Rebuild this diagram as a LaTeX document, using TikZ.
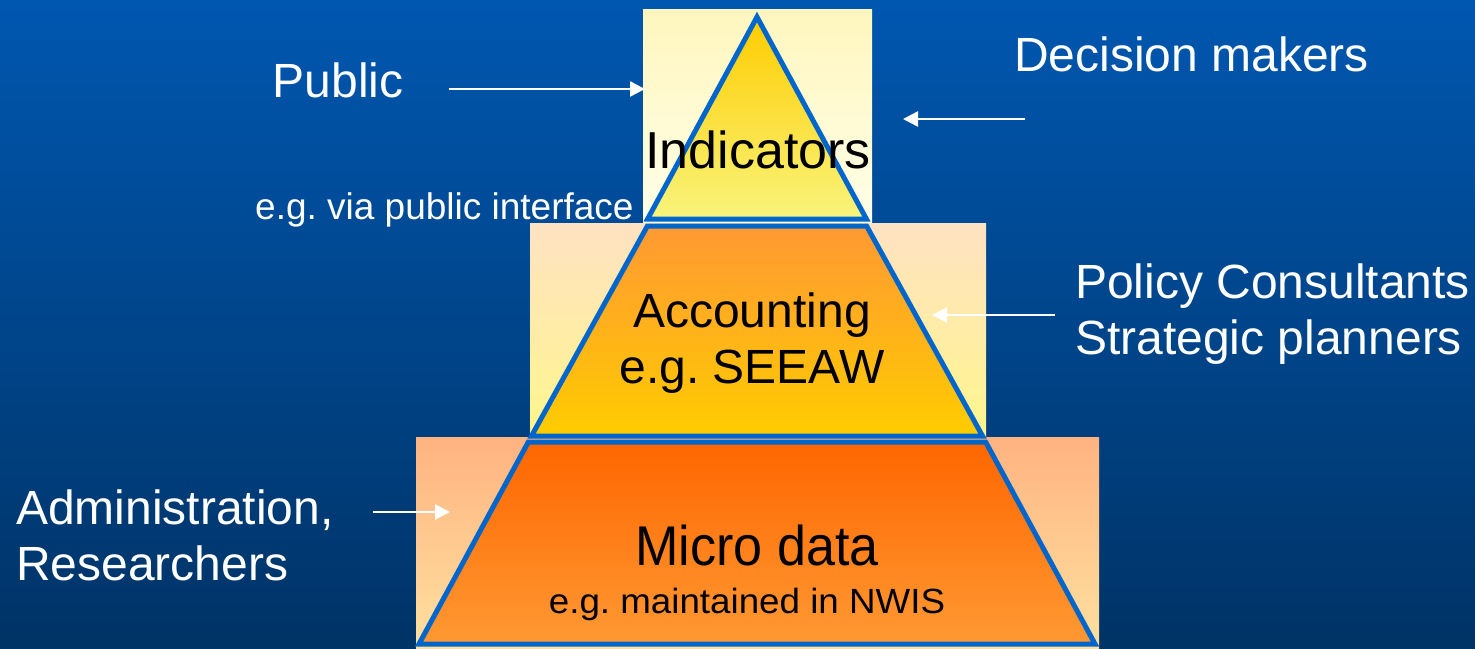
\documentclass[tikz,border=0pt]{standalone}
\usepackage{fontspec}
\setmainfont{Liberation Sans}
\usetikzlibrary{arrows.meta}
\definecolor{bgtop}{HTML}{0057B0}
\definecolor{bgbot}{HTML}{003366}
\definecolor{edgeblue}{HTML}{0066CC}
\definecolor{rtopA}{HTML}{FFF6BE}
\definecolor{rtopB}{HTML}{FFFFE8}
\definecolor{rmidA}{HTML}{FFE2C2}
\definecolor{rmidB}{HTML}{FFF68C}
\definecolor{rbotA}{HTML}{FFB380}
\definecolor{rbotB}{HTML}{FFE0A0}
\definecolor{ftopA}{HTML}{FFCC00}
\definecolor{ftopB}{HTML}{F8F47C}
\definecolor{fmidA}{HTML}{FF9933}
\definecolor{fmidB}{HTML}{FFCC00}
\definecolor{fbotA}{HTML}{FF6600}
\definecolor{fbotB}{HTML}{FF9933}
\frenchspacing
\tikzset{
  piece/.style={draw=edgeblue,line width=5pt,line join=miter},
  wlabel/.style={text=white,inner sep=0pt,font=\fontsize{48}{56}\selectfont},
  blabel/.style={text=black,inner sep=0pt,font=\fontsize{48}{56}\selectfont},
  arr/.style={draw=white,line width=2.5pt,-{Triangle[length=15pt,width=15pt]}}
}
\begin{document}
\begin{tikzpicture}[x=1pt,y=-1pt]
\useasboundingbox (0,0) rectangle (1475,648);
\shade[top color=bgtop,bottom color=bgbot] (0,0) rectangle (1475,648);
% background rectangles
\shade[top color=rtopA,bottom color=rtopB] (643,9) rectangle (872,223);
\shade[top color=rmidA,bottom color=rmidB] (530,223) rectangle (986,437);
\shade[top color=rbotA,bottom color=rbotB] (416,437) rectangle (1099,648);
% pyramid pieces
\shade[top color=ftopA,bottom color=ftopB,piece] (757,17) -- (866.4,219) -- (647.6,219) -- cycle;
\shade[top color=fmidA,bottom color=fmidB,piece] (647.4,226) -- (866.6,226) -- (982.5,436) -- (531.5,436) -- cycle;
\shade[top color=fbotA,bottom color=fbotB,piece] (528.3,442) -- (985.7,442) -- (1095,644) -- (419,644) -- cycle;
% texts
\node[blabel,anchor=base,font=\fontsize{52}{60}\selectfont] (ind) at (758,168) {Indicators};
\node[blabel,anchor=base] (acc) at (752,327) {Accounting};
\node[blabel,anchor=base] (see) at (752,383) {e.g. SEEAW};
\node[blabel,anchor=base] (mic) at (757,565) {\fontsize{56}{64}\selectfont\scalebox{0.93}[1]{Micro data}};
\node[blabel,anchor=base] (nwis) at (747,613) {\fontsize{35}{42}\selectfont\scalebox{1.05}[1]{e.g. maintained in NWIS}};
\node[wlabel,anchor=base] (pub) at (338,97) {Public};
\node[wlabel,anchor=base west,font=\fontsize{37}{44}\selectfont] (via) at (255,219) {e.g. via public interface};
\node[wlabel,anchor=base west] (dec) at (1014,71) {Decision makers};
\node[wlabel,anchor=base west] (pol) at (1075,298) {Policy Consultants};
\node[wlabel,anchor=base west] (str) at (1075,354) {Strategic planners};
\node[wlabel,anchor=base west] (adm) at (16,524) {Administration,};
\node[wlabel,anchor=base west] (res) at (16,580) {Researchers};
% arrows
\coordinate (pubS) at (449,89);
\coordinate (pubE) at (645,89);
\coordinate (decS) at (1025,119);
\coordinate (decE) at (903,119);
\coordinate (polS) at (1055,315);
\coordinate (polE) at (932,315);
\coordinate (admS) at (373,512);
\coordinate (admE) at (450,512);
\draw[arr] (pubS) -- (pubE);
\draw[arr] (decS) -- (decE);
\draw[arr] (polS) -- (polE);
\draw[arr] (admS) -- (admE);
\end{tikzpicture}
\end{document}
